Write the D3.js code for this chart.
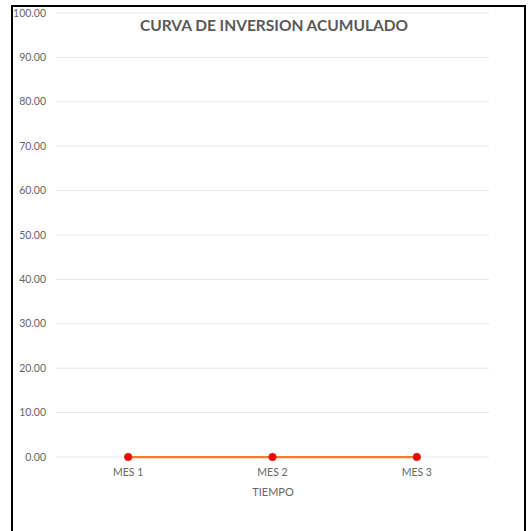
<!DOCTYPE html>
<html><head><meta charset="utf-8">
<script src="https://cdn.jsdelivr.net/npm/d3@7"></script>
<style>body{margin:0;background:#fff;}svg{display:block;}</style>
</head><body>
<svg id="c" width="530" height="531"></svg>
<script>
const categories = ["MES 1", "MES 2", "MES 3"];
const values = [0, 0, 0];
const yTicks = [0, 10, 20, 30, 40, 50, 60, 70, 80, 90, 100];
const title = "CURVA DE INVERSION ACUMULADO";
const xTitle = "TIEMPO";

const svg = d3.select("#c");
const font = "Lato, 'Open Sans', sans-serif";
// frame
svg.append("path").attr("d", "M12,531 V6 H525 V531")
  .attr("fill", "none").attr("stroke", "#000").attr("stroke-width", 2);

const x = d3.scalePoint().domain(categories).range([56, 489]).padding(0.5);
const y = d3.scaleLinear().domain([0, 100]).range([457, 13]);

// gridlines
svg.append("g").selectAll("line").data(yTicks).join("line")
  .attr("x1", 56).attr("x2", 489)
  .attr("y1", d => y(d)).attr("y2", d => y(d))
  .attr("stroke", "#e6e6e6").attr("stroke-width", 1);

// y labels
svg.append("g").selectAll("text").data(yTicks).join("text")
  .attr("x", 46).attr("y", d => y(d) + 3.5)
  .attr("text-anchor", "end").attr("font-family", font).attr("font-size", 10.5)
  .attr("fill", "#666").text(d => d.toFixed(2));

// x labels
svg.append("g").selectAll("text").data(categories).join("text")
  .attr("x", d => x(d)).attr("y", 476)
  .attr("text-anchor", "middle").attr("font-family", font).attr("font-size", 10.5)
  .attr("fill", "#666").text(d => d);

svg.append("text").attr("x", 273).attr("y", 496).attr("text-anchor", "middle")
  .attr("font-family", font).attr("font-size", 11).attr("fill", "#666").text(xTitle);

svg.append("text").attr("x", 274).attr("y", 31).attr("text-anchor", "middle")
  .attr("font-family", font).attr("font-size", 15.5).attr("font-weight", "bold")
  .attr("fill", "#595959").text(title);

const line = d3.line().x((d, i) => x(categories[i])).y(d => y(d));
svg.append("path").datum(values).attr("d", line)
  .attr("fill", "none").attr("stroke", "#ED7D31").attr("stroke-width", 2.25);

svg.append("g").selectAll("circle").data(values).join("circle")
  .attr("cx", (d, i) => x(categories[i])).attr("cy", d => y(d)).attr("r", 3.8)
  .attr("fill", "#FF0000").attr("stroke", "#C0392B").attr("stroke-width", 0.8);
</script>
</body></html>
